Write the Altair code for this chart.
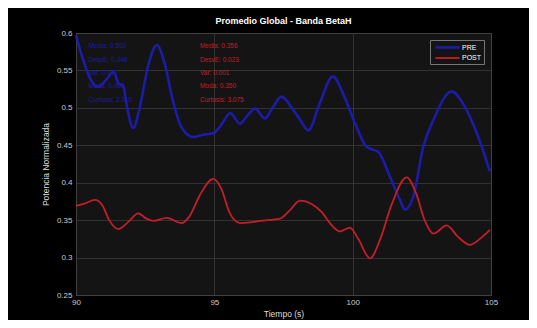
import altair as alt
import pandas as pd

pre_t = [90.0, 90.25, 90.5, 90.8, 91.1, 91.35, 91.55, 91.7, 91.85, 92.07, 92.3, 92.6, 92.92, 93.2, 93.5, 93.8,
         94.24, 94.6, 94.96, 95.3, 95.57, 95.93, 96.2, 96.47, 96.83, 97.1, 97.43, 97.8, 98.1, 98.4, 98.8, 99.28,
         99.7, 100.1, 100.5, 100.93, 101.35, 101.71, 101.89, 102.19, 102.55, 102.92, 103.58, 104.0, 104.5, 104.96]
pre_v = [0.597, 0.565, 0.540, 0.528, 0.538, 0.548, 0.532, 0.530, 0.500, 0.473, 0.500, 0.555, 0.584, 0.560, 0.510, 0.475,
         0.461, 0.464, 0.466, 0.480, 0.493, 0.479, 0.490, 0.499, 0.486, 0.500, 0.515, 0.500, 0.484, 0.470, 0.505, 0.542,
         0.515, 0.478, 0.448, 0.441, 0.408, 0.377, 0.364, 0.381, 0.448, 0.484, 0.522, 0.505, 0.465, 0.415]

post_t = [90.0, 90.3, 90.69, 90.95, 91.2, 91.53, 91.9, 92.25, 92.55, 92.8, 93.28, 93.82, 94.1, 94.5, 94.96, 95.25,
          95.55, 95.93, 96.3, 96.65, 97.37, 97.7, 98.1, 98.5, 98.9, 99.2, 99.54, 99.9, 100.2, 100.63, 101.0, 101.4,
          101.95, 102.3, 102.6, 102.92, 103.4, 103.8, 104.24, 104.6, 104.96]
post_v = [0.369, 0.372, 0.377, 0.370, 0.350, 0.338, 0.348, 0.359, 0.352, 0.349, 0.353, 0.346, 0.355, 0.385, 0.405, 0.392,
          0.360, 0.346, 0.347, 0.349, 0.352, 0.362, 0.376, 0.372, 0.360, 0.345, 0.335, 0.340, 0.325, 0.299, 0.325, 0.370,
          0.407, 0.385, 0.350, 0.332, 0.343, 0.328, 0.317, 0.325, 0.337]

pre_stats = ["Media: 0.502", "DesvE: 0.048", "Var: 0.002", "Moda: 0.466", "Curtosis: 2.310"]
post_stats = ["Media: 0.356", "DesvE: 0.023", "Var: 0.001", "Moda: 0.350", "Curtosis: 3.075"]
stat_y = [0.583, 0.564, 0.547, 0.529, 0.511]

x_ticks = [90, 95, 100, 105]
y_ticks = [0.25, 0.3, 0.35, 0.4, 0.45, 0.5, 0.55, 0.6]

df = pd.concat([
    pd.DataFrame({"t": pre_t, "v": pre_v, "serie": "PRE", "o": range(len(pre_t))}),
    pd.DataFrame({"t": post_t, "v": post_v, "serie": "POST", "o": range(len(post_t))}),
])

blue = "#1c1ca8"
red = "#c41e2a"

xscale = alt.Scale(domain=[90, 105], nice=False)
yscale = alt.Scale(domain=[0.25, 0.6], nice=False, zero=False)
xaxis = alt.Axis(values=x_ticks, title="Tiempo (s)", format="d", labelFlush=False)
yaxis = alt.Axis(values=y_ticks, title="Potencia Normalizada", format="~g",
                 labelOverlap=False, labelFlush=False)

xs = alt.X("t:Q", scale=xscale, axis=xaxis)
ys = alt.Y("v:Q", scale=yscale, axis=yaxis)

lines = alt.Chart(df).mark_line(interpolate="monotone").encode(
    x=xs, y=ys,
    order="o:Q",
    color=alt.Color("serie:N", scale=alt.Scale(domain=["PRE", "POST"], range=[blue, red]),
                    legend=alt.Legend(title=None, orient="top-right", offset=7,
                                      symbolType="M -0.5 0 L 5.5 0",
                                      symbolStrokeWidth=2, symbolSize=64, labelColor="#ffffff",
                                      labelFontSize=7, fillColor="#141414", strokeColor="#777777",
                                      padding=2, rowPadding=0, labelOffset=19,
                                      labelFont="Liberation Sans")),
    strokeWidth=alt.StrokeWidth("serie:N", scale=alt.Scale(domain=["PRE", "POST"], range=[2.6, 1.8]),
                                legend=None),
)

pre_df = pd.DataFrame({"t": [90.45] * 5, "v": stat_y, "txt": pre_stats})
post_df = pd.DataFrame({"t": [94.48] * 5, "v": stat_y, "txt": post_stats})

pre_txt = alt.Chart(pre_df).mark_text(align="left", baseline="middle", fontSize=6.5, color=blue,
                                      font="Liberation Sans").encode(x=xs, y=ys, text="txt:N")
post_txt = alt.Chart(post_df).mark_text(align="left", baseline="middle", fontSize=6.5, color=red,
                                        font="Liberation Sans").encode(x=xs, y=ys, text="txt:N")

chart = alt.layer(lines, pre_txt, post_txt).properties(
    width=415, height=262,
    title=alt.TitleParams("Promedio Global - Banda BetaH", color="#ffffff", fontSize=9,
                          fontWeight="bold", font="Liberation Sans", anchor="middle", offset=3),
    background="#000000",
    padding={"left": 68, "top": 25, "right": 38, "bottom": 25},
    autosize=alt.AutoSizeParams(type="none"),
).configure_view(
    fill="#141414", stroke="#5a5a5a", strokeWidth=1
).configure_axis(
    gridColor="#3a3a3a", gridWidth=0.8, domain=False, ticks=False,
    labelColor="#cccccc", labelFontSize=8, labelFont="Liberation Sans",
    titleColor="#dddddd", titleFontSize=8.5, titleFont="Liberation Sans", titleFontWeight="normal",
).configure_axisX(labelPadding=3, titlePadding=3).configure_axisY(labelPadding=4, titlePadding=6)

chart.save("out.html", embed_options={"renderer": "svg", "actions": False})
